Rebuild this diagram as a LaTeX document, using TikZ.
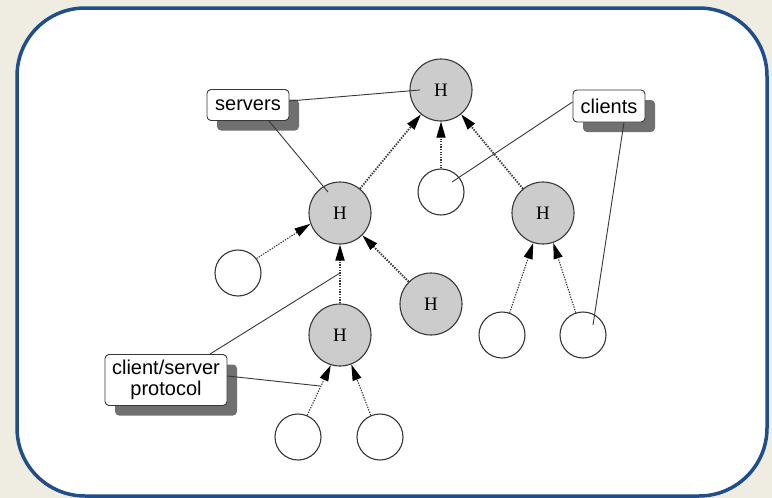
\documentclass[tikz,border=0pt]{standalone}
\usepackage{fontspec}
\setmainfont{Liberation Serif}
\newfontfamily\labelfont{Liberation Sans}
\usetikzlibrary{arrows.meta,shadows,calc}
\definecolor{bgbeige}{RGB}{239,236,226}
\definecolor{frameblue}{RGB}{31,78,138}
\definecolor{hostgray}{RGB}{204,204,204}
\definecolor{shadowgray}{RGB}{112,112,112}
\definecolor{ink}{RGB}{55,55,55}
\begin{document}
\begin{tikzpicture}[x=1pt,y=-1pt,
  host/.style={circle,draw=ink,line width=1.1pt,fill=hostgray,minimum size=62pt,inner sep=0pt,font=\fontsize{19}{19}\selectfont},
  clientnode/.style={circle,draw=ink,line width=1.1pt,fill=white,minimum size=46pt,inner sep=0pt},
  callout/.style={draw=ink,line width=0.9pt,fill=white,rounded corners=4pt,align=center,inner sep=0pt,
    font=\labelfont\fontsize{20}{21}\selectfont,
    drop shadow={shadow xshift=10pt,shadow yshift=-10pt,fill=shadowgray,opacity=1}},
  hlink/.style={draw=ink,line width=1.8pt,dash pattern=on 1.4pt off 1.3pt,-{Triangle[length=16pt,width=9pt,black]}},
  clink/.style={draw=ink,line width=1.1pt,dash pattern=on 1.3pt off 1.3pt,-{Triangle[length=16pt,width=9pt,black]}},
  note/.style={draw=ink,line width=0.9pt}]
\useasboundingbox (0,0) rectangle (772,498);
\fill[bgbeige] (0,0) rectangle (772,498);
\draw[frameblue,line width=3.5pt,fill=white,rounded corners=68pt] (17,8) rectangle (767,496);

% hosts
\node[host] (tH) at (441,90) {H};
\node[host] (lH) at (340,213) {H};
\node[host] (rH) at (543,213) {H};
\node[host] (mH) at (431,304) {H};
\node[host] (bH) at (340,335) {H};
% clients
\node[clientnode] (c0) at (441,192) {};
\node[clientnode] (c1) at (238,273) {};
\node[clientnode] (c2) at (298,437) {};
\node[clientnode] (c3) at (380,437) {};
\node[clientnode] (c4) at (502,335) {};
\node[clientnode] (c5) at (583,335) {};
% labels
\node[callout,minimum width=82pt,minimum height=31pt] (servers) at (248,105) {servers};
\node[callout,minimum width=72pt,minimum height=32pt] (clients) at (609,106) {clients};
\node[callout,minimum width=122pt,minimum height=51pt] (cs) at (166,380) {client/server\\protocol};

% links
\draw[hlink] (lH) -- (tH);
\draw[clink] (c0) -- (tH);
\draw[hlink] (rH) -- (tH);
\draw[clink] (c1.38) -- (lH.200);
\draw[hlink] (bH) -- (lH);
\draw[hlink] (mH) -- (lH);
\draw[clink] (c2.67) -- (bH.253);
\draw[clink] (c3.113) -- (bH.291);
\draw[clink] (c4.71) -- (rH.252);
\draw[clink] (c5.108) -- (rH.289);

% annotation lines
\coordinate (p1) at ($(tH)+(-21,0)$);
\coordinate (p2) at ($(lH)+(-12,-21)$);
\coordinate (p3) at ($(c0)+(11,-10)$);
\coordinate (p4) at ($(c5)+(10,-10)$);
\coordinate (p5) at ($(lH)+(0,60)$);
\coordinate (p6) at (320,386);
\draw[note] ($(servers.east)+(0,-4)$) -- (p1);
\draw[note] ($(servers.south)+(21,0)$) -- (p2);
\draw[note] ($(clients.west)+(0,-4)$) -- (p3);
\draw[note] ($(clients.south)+(15,0)$) -- (p4);
\draw[note] ($(cs.north)+(44,0)$) -- (p5);
\draw[note] ($(cs.east)+(0,-4)$) -- (p6);
\end{tikzpicture}
\end{document}
